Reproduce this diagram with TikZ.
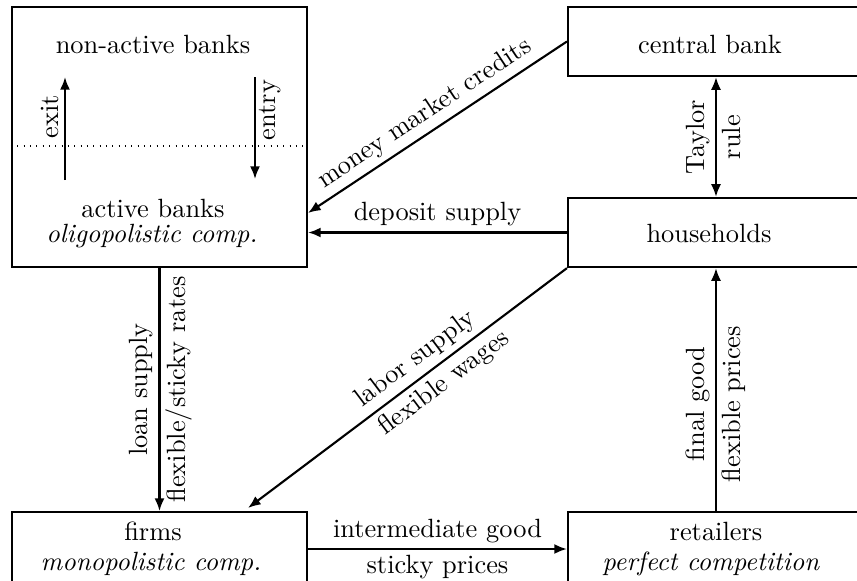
\documentclass[tikz,border=0pt]{standalone}
\usetikzlibrary{arrows.meta,positioning}

\tikzset{
    >={Latex[length=4.8pt,width=3.8pt]},
    sector/.style={draw,thick,inner sep=0pt,minimum width=112pt,minimum height=26.2pt},
    flow/.style={thick,->},
    lbl/.style={inner sep=2pt},
    vlbl/.style={lbl,rotate=90},
}

\begin{document}
\begin{tikzpicture}[x=.379pt,y=-.379pt]
\useasboundingbox (0,0) rectangle (857,580);

% sectors
\node[sector,minimum width=111.8pt,minimum height=98.5pt] (banks) at (159.5,137) {};
\node[sector,minimum width=112.2pt] (cb) at (716,41.5) {};
\node[sector,minimum width=112.2pt] (hh) at (716,232.5) {};
\node[sector,minimum width=111.8pt,minimum height=28pt] (firms) at (159.5,549) {};
\node[sector,minimum width=112.2pt,minimum height=28pt] (ret) at (716,549) {};

\node (nonactive) at (153,44) {non-active banks};
\node (active) at (153,208) {active banks};
\node (oligo) at (152,236) {\textit{oligopolistic comp.}};
\node (cbtxt) at (710,44) {central bank};
\node (hhtxt) at (709,233) {households};
\node (firmstxt) at (153,531) {firms};
\node (mono) at (151,564) {\textit{monopolistic comp.}};
\node (rettxt) at (716,531) {retailers};
\node (perfect) at (711,564) {\textit{perfect competition}};

% entry and exit
\draw[dotted] (banks.west |- 0,146) -- (banks.east |- 0,146);
\coordinate (exitlow) at (65,180);
\coordinate (exithigh) at (65,77);
\coordinate (entryhigh) at (255,77);
\coordinate (entrylow) at (255,179);
\draw[flow] (exitlow) -- (exithigh);
\draw[flow] (entryhigh) -- (entrylow);
\node[vlbl] (exitlbl) at (50,117) {exit};
\node[vlbl] (entrylbl) at (270,110) {entry};

% flows
\coordinate (mmend) at (308,213);
\coordinate (labend) at (248,508);
\draw[flow] (cb.west) -- (mmend) node[lbl,pos=.51,above,sloped] {money market credits};
\draw[flow] (hh.west) -- (hh.west -| banks.east) node[lbl,midway,above] {deposit supply};
\draw[<->,thick] (hh.north) -- (cb.south)
    node[vlbl,midway,above] {Taylor} node[vlbl,midway,below] {rule};
\draw[flow] (hh.south west) -- (labend)
    node[lbl,pos=.44,above,sloped] {labor supply} node[lbl,pos=.42,below,sloped] {flexible wages};
\draw[flow] (banks.south) -- (firms.north)
    node[vlbl,midway,above] {loan supply} node[vlbl,midway,below] {flexible/sticky rates};
\draw[flow] (ret.north) -- (hh.south)
    node[vlbl,pos=.44,above] {final good} node[vlbl,pos=.44,below] {flexible prices};
\draw[flow] (firms.east) -- (ret.west)
    node[lbl,midway,above] {intermediate good} node[lbl,midway,below] {sticky prices};
\end{tikzpicture}
\end{document}
